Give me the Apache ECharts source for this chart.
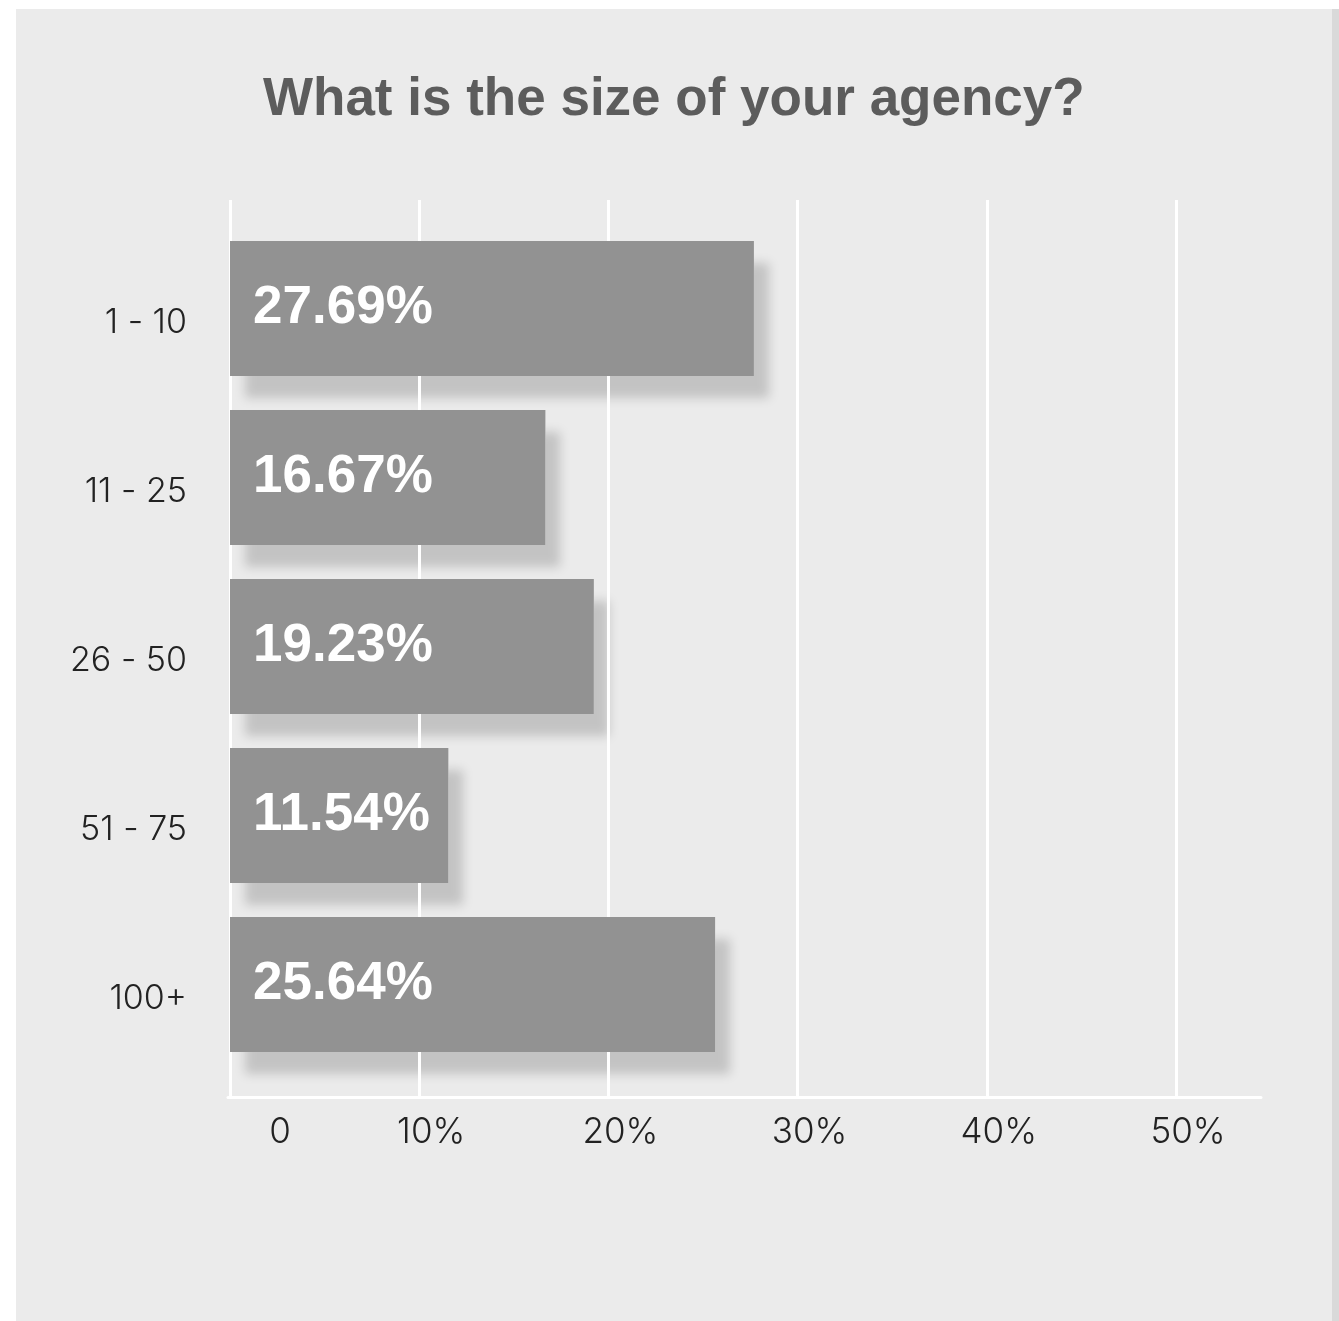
<!DOCTYPE html>
<html>
<head>
<meta charset="utf-8">
<title>What is the size of your agency?</title>
<script src="https://cdn.jsdelivr.net/npm/echarts@6/dist/echarts.min.js"></script>
<style>
  html, body { margin: 0; padding: 0; background: #ffffff; }
  #wrap { position: relative; width: 1339px; height: 1321px; overflow: hidden; }
  #panel { position: absolute; left: 16px; top: 9px; width: 1316px; height: 1312px; background: #ebebeb; }
  #edge { position: absolute; left: 1332px; top: 9px; width: 7px; height: 1312px; background: #d9d9d9; }
  #chart { position: absolute; left: 0; top: 0; width: 1339px; height: 1321px; }
</style>
</head>
<body>
<div id="wrap">
  <div id="panel"></div>
  <div id="edge"></div>
  <div id="chart"></div>
</div>
<script>
// Survey answers: agency size (number of people) and share of respondents (%)
const sizeCategories = ['1 - 10', '11 - 25', '26 - 50', '51 - 75', '100+'];
const shareValues = [27.69, 16.67, 19.23, 11.54, 25.64];
const axisTicks = [0, 10, 20, 30, 40, 50];

const chart = echarts.init(document.getElementById('chart'), null, { renderer: 'canvas' });

const plotLeft = 230;
const plotRight = 1339 - 1176;   // right edge of the 50% gridline
const labelFont = 'Inter, "Liberation Sans", Arial, sans-serif';

chart.setOption({
  animation: false,
  title: {
    text: 'What is the size of your agency?',
    left: 263,
    top: 74,
    padding: 0,
    textStyle: {
      fontFamily: '"Liberation Sans", Arial, sans-serif',
      fontWeight: 'bold',
      fontSize: 53,
      color: '#5c5c5c'
    }
  },
  grid: [
    // bars
    { left: plotLeft, right: plotRight, top: 224, height: 845 },
    // gridlines and tick labels
    { left: plotLeft, right: plotRight, top: 200, bottom: 1321 - 1097 },
    // baseline running past the last gridline
    { left: 228, right: 1339 - 1261, top: 1090, bottom: 1321 - 1097 }
  ],
  xAxis: [
    {
      gridIndex: 0, type: 'value', min: 0, max: axisTicks[axisTicks.length - 1],
      show: false
    },
    {
      gridIndex: 1, type: 'value', min: 0, max: axisTicks[axisTicks.length - 1], interval: 10,
      z: 1,
      axisLine: { show: false },
      axisTick: { show: false },
      splitLine: { show: true, lineStyle: { color: '#ffffff', width: 3 } },
      axisLabel: {
        margin: 18,
        formatter: function (v) {
          return v === 0 ? '{zero|0}' : '{pct|' + v + '%}';
        },
        rich: {
          zero: {
            fontFamily: labelFont, fontWeight: 300, fontSize: 35, color: '#222222',
            padding: [0, 0, 0, 100]
          },
          pct: {
            fontFamily: labelFont, fontWeight: 300, fontSize: 35, color: '#222222',
            padding: [0, 0, 0, 24]
          }
        }
      }
    },
    {
      gridIndex: 2, type: 'value', min: 0, max: 1,
      z: 1,
      axisLine: { show: true, lineStyle: { color: '#ffffff', width: 3 } },
      axisTick: { show: false },
      axisLabel: { show: false },
      splitLine: { show: false }
    }
  ],
  yAxis: [
    {
      gridIndex: 0, type: 'category', data: sizeCategories, inverse: true,
      axisLine: { show: false },
      axisTick: { show: false },
      splitLine: { show: false },
      axisLabel: {
        margin: 43,
        formatter: function (v) { return '{cat|' + v + '}'; },
        rich: {
          cat: {
            fontFamily: labelFont, fontWeight: 300, fontSize: 34, color: '#222222',
            padding: [28, 0, 0, 0]
          }
        }
      }
    },
    {
      gridIndex: 1, type: 'value', min: 0, max: 1,
      z: 1,
      axisLine: { show: false }, axisTick: { show: false },
      axisLabel: { show: false }, splitLine: { show: false }
    },
    {
      gridIndex: 2, type: 'value', min: 0, max: 1,
      axisLine: { show: false }, axisTick: { show: false },
      axisLabel: { show: false }, splitLine: { show: false }
    }
  ],
  series: [
    {
      // drop shadow layer, sits under the gridlines
      name: 'shadow',
      type: 'bar',
      xAxisIndex: 0, yAxisIndex: 0,
      data: shareValues,
      barWidth: 135,
      z: 0,
      silent: true,
      itemStyle: {
        color: '#ebebeb',
        shadowColor: 'rgba(0,0,0,0.17)',
        shadowBlur: 10,
        shadowOffsetX: 15,
        shadowOffsetY: 22
      }
    },
    {
      name: 'share',
      type: 'bar',
      xAxisIndex: 0, yAxisIndex: 0,
      data: shareValues,
      barWidth: 135,
      barGap: '-100%',
      z: 3,
      itemStyle: { color: '#929292' },
      label: {
        show: true,
        position: 'insideLeft',
        distance: 23,
        formatter: function (p) { return p.value.toFixed(2) + '%'; },
        fontFamily: '"Liberation Sans", Arial, sans-serif',
        fontWeight: 'bold',
        fontSize: 53,
        color: '#ffffff'
      }
    }
  ]
});
</script>
</body>
</html>
